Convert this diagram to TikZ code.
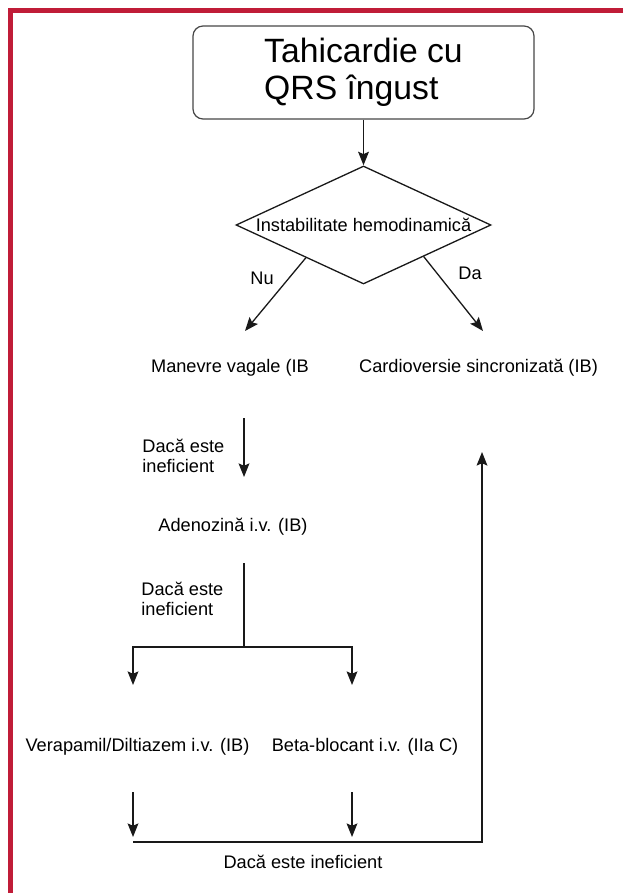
\documentclass[tikz,border=0pt]{standalone}
\usepackage{fontspec}
\setmainfont{Liberation Sans}
\usetikzlibrary{arrows.meta, positioning, shapes.geometric, calc}
\definecolor{frred}{RGB}{192, 28, 56}
\definecolor{lngray}{RGB}{25, 25, 25}

\begin{document}
\begin{tikzpicture}[x=0.5pt, y=-0.5pt,
    every node/.style={font=\fontsize{9.1}{10.2}\selectfont, inner sep=0pt},
    arr/.style={-{Stealth[length=6.8pt, width=5.4pt, inset=1.2pt]}, line width=0.65pt, lngray},
    ln/.style={line width=0.65pt, lngray},
    titlebox/.style={draw=lngray!80, line width=0.6pt, rounded corners=5pt,
      minimum width=170.5pt, minimum height=46.5pt, align=left,
      font=\fontsize{16.85}{18.6}\selectfont},
    decision/.style={draw=lngray, line width=0.65pt, diamond,
      minimum width=127.5pt, minimum height=59pt},
    note/.style={align=left, anchor=west}]
  \useasboundingbox (0,0) rectangle (623,893);

  % Frame (top and left edge)
  \draw[frred, line width=2.5pt] (623,11) -- (10,11) -- (10,893);

  % Title box
  \node[titlebox] (title) at (363.5,72.5) {Tahicardie cu\\QRS îngust};

  % Decision
  \node[decision] (instab) at (363.5,225) {};
  \node (instabtxt) at (instab.center) {Instabilitate hemodinamică};
  \draw[arr] (title.south) -- (instab.north);

  % Nu / Da branches
  \coordinate (nuend) at (245,331);
  \coordinate (daend) at (483,331);
  \draw[arr] ($(instab.west)!0.55!(instab.south)$) -- (nuend);
  \draw[arr] ($(instab.east)!0.53!(instab.south)$) -- (daend);
  \node (lblnu) at (262,278) {Nu};
  \node (lblda) at (470,273) {Da};

  \node (vagal) at (230,368) {Manevre vagale (IB};
  \node (cardio) at (478.5,368) {Cardioversie sincronizată (IB)};

  % First "if ineffective" step
  \coordinate (vagout) at (244,418);
  \coordinate (adenoin) at (244,477);
  \draw[arr] (vagout) -- (adenoin);
  \node[note] (ineff1) at (142,456) {Dacă este\\ineficient};

  \node (adeno) at (233,527) {Adenozină i.v. (IB)};

  % Second step, split into two drugs
  \coordinate (adenoout) at (244,563);
  \coordinate (split) at (244,647);
  \coordinate (veraptop) at (133,685);
  \coordinate (betatop) at (352,685);
  \draw[ln] (adenoout) -- (split);
  \draw[arr] (split) -| (veraptop);
  \draw[arr] (split) -| (betatop);
  \node[note] (ineff2) at (141,599) {Dacă este\\ineficient};

  \node (verap) at (137.5,747) {Verapamil/Diltiazem i.v. (IB)};
  \node (beta) at (365,747) {Beta-blocant i.v. (IIa C)};

  % Back to cardioversion
  \coordinate (verapbot) at (133,792);
  \coordinate (betabot) at (352,792);
  \coordinate (verapjoin) at (133,837);
  \coordinate (betajoin) at (352,837);
  \draw[arr] (verapbot) -- (verapjoin);
  \draw[arr] (betabot) -- (betajoin);
  \coordinate (loopstart) at (133,842);
  \coordinate (loopend) at (482,452);
  \draw[arr] (loopstart) -| (loopend);
  \node (ineff3) at (303,862) {Dacă este ineficient};
\end{tikzpicture}
\end{document}
